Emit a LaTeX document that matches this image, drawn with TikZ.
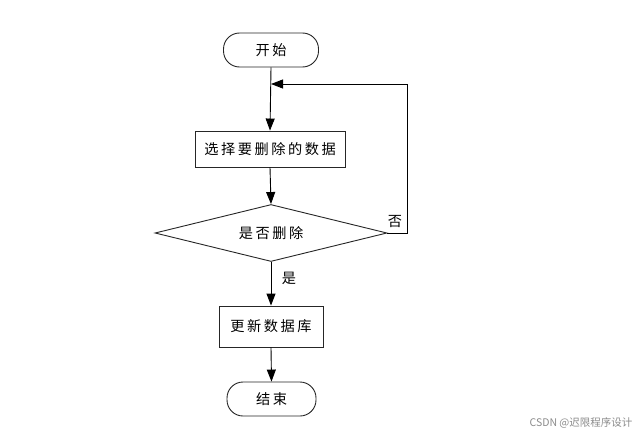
\documentclass[tikz,border=0pt]{standalone}
\usepackage{fontspec}
\setmainfont{Noto Sans CJK SC}[LetterSpace=18]
\newfontfamily\wmfont{Noto Sans CJK SC}
\usetikzlibrary{arrows.meta,shapes.geometric}
\begin{document}
\begin{tikzpicture}[x=1pt,y=-1pt,
  line width=0.9pt,
  base/.style={draw=black!85, font=\fontsize{14.2}{16}\selectfont, inner sep=0pt},
  term/.style={base, rounded corners=16pt, minimum width=95pt, minimum height=34pt},
  proc/.style={base, minimum height=36pt},
  dec/.style={base, diamond, aspect=4.1, minimum width=232pt, minimum height=57pt},
  arr/.style={draw=black, -{Triangle[length=12pt,width=9pt]}},
  lbl/.style={font=\fontsize{14.2}{16}\selectfont, inner sep=0pt}]
\useasboundingbox (0,0) rectangle (644,436);
\fill[white] (0,0) rectangle (644,436);
\node[term] (start) at (271,50) {开始};
\node[proc, minimum width=150pt] (sel) at (270,149) {选择要删除的数据};
\node[dec] (dec) at (271,233) {是否删除};
\node[proc, minimum width=104pt, minimum height=41pt] (upd) at (271,326.5) {更新数据库};
\node[term, minimum width=89pt] (end) at (271.5,399) {结束};
\coordinate (join) at (271,84);
\coordinate (c1) at (407,233);
\coordinate (c2) at (407,84);
\draw[arr] (start.south) -- (sel.north);
\draw[arr] (sel.south) -- (dec.north);
\draw[arr] (dec.south) -- (upd.north);
\draw[arr] (upd.south) -- (end.north);
\draw[arr] (dec.east) -- (c1) -- (c2) -- (join);
\node[lbl] (no) at (395,222) {否};
\node[lbl] (yes) at (289,278) {是};
\node[font=\wmfont\fontsize{10.5}{12}\selectfont, text=black!45, inner sep=0pt] (wm) at (581,423) {CSDN @迟限程序设计};
\end{tikzpicture}
\end{document}
